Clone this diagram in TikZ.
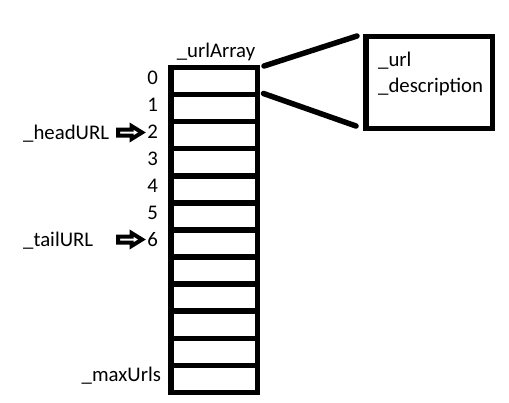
\documentclass[tikz,border=0pt]{standalone}
\usepackage{fontspec}
\setmainfont{Carlito}
\begin{document}
\begin{tikzpicture}[x=1pt,y=-1pt,
  cell/.style={draw=black,line width=5.5pt,minimum width=86.5pt,minimum height=27.08pt,inner sep=0pt,outer sep=0pt},
  infobox/.style={draw=black,line width=5.5pt,minimum width=126.5pt,minimum height=92pt,inner sep=0pt},
  lbl/.style={inner sep=0pt,font=\fontsize{20.8}{24}\selectfont,text=black},
  link/.style={line width=5.5pt,line cap=round},
  blockarrow/.style={draw=black,fill=white,line width=4pt,line join=miter}]
\useasboundingbox (0,0) rectangle (509,402);
\fill[white] (0,0) rectangle (509,402);
% array cells
\foreach \i in {0,...,11}{
  \node[cell] (c\i) at (214.25,{67.5+27.08*(\i+0.5)}) {};
}
% indices
\foreach \i in {0,...,6}{
  \node[lbl,anchor=base east] (n\i) at (158,{67.5+27.08*(\i+0.5)+3.3}) {\i};
}
\node[lbl,anchor=base] (title) at (216,57) {\_urlArray};
\node[lbl,anchor=base west] (head) at (23,139) {\_headURL};
\node[lbl,anchor=base west] (tail) at (23,246.5) {\_tailURL};
\node[lbl,anchor=base west] (maxu) at (81.5,381) {\_maxUrls};
% record box
\node[infobox] (rec) at (429.25,82.5) {};
\node[lbl,anchor=base west] (url) at (378,66.5) {\_url};
\node[lbl,anchor=base west] (desc) at (378,92.5) {\_description};
% connectors
\coordinate (p1) at (264,66);
\coordinate (q1) at (357,36);
\coordinate (p2) at (263.5,93.5);
\coordinate (q2) at (356,126);
\draw[link] (p1) -- (q1);
\draw[link] (p2) -- (q2);
% block arrows
\coordinate (ht) at (142,132.5);
\coordinate (tt) at (142,239.5);
\foreach \t in {ht,tt}{
  \draw[blockarrow] (\t) -- ++(-10.5,-6.5) -- ++(0,3.5) -- ++(-13.5,0) -- ++(0,6) -- ++(13.5,0) -- ++(0,3.5) -- cycle;
}
\end{tikzpicture}
\end{document}
